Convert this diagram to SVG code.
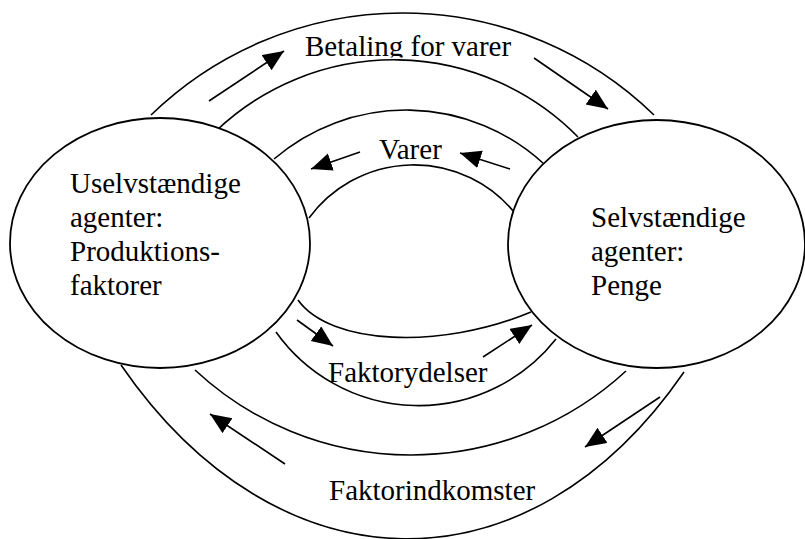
<svg xmlns="http://www.w3.org/2000/svg" width="805" height="539" viewBox="0 0 805 539">
<style>
.ln{fill:none;stroke:#000;stroke-width:1.6}
.ar{fill:none;stroke:#000;stroke-width:1.6;marker-end:url(#ah)}
.nd{fill:#fff;stroke:#000;stroke-width:1.8}
.t{font-family:"Liberation Serif","Times New Roman",serif;font-size:29px;fill:#000}
</style>
<defs>
<marker id="ah" markerUnits="userSpaceOnUse" markerWidth="24" markerHeight="20" refX="21" refY="9" orient="auto">
<path d="M0,0 L21,9 L0,18 z" fill="#000"/>
</marker>
<clipPath id="clipB"><rect x="290" y="20" width="240" height="37.5"/></clipPath>
</defs>
<rect width="805" height="539" fill="#fff"/>
<g id="connectors">
<path class="ln" d="M151,115 A361 361 0 0 1 654,115"/>
<path class="ln" d="M216,131 A258 258 0 0 1 578,137"/>
<path class="ln" d="M274,159 A203 203 0 0 1 544,164"/>
<path class="ln" d="M309,218 A130 130 0 0 1 514,212"/>
<path class="ln" d="M298,300 C330,345 440,350 531,312"/>
<path class="ln" d="M276,332 A175 175 0 0 0 556,339"/>
<path class="ln" d="M195,370 A317 317 0 0 0 626,371"/>
<path class="ln" d="M121,365 C277,592 528,599 684,372"/>
<line class="ar" x1="209" y1="101" x2="284" y2="51"/>
<line class="ar" x1="534" y1="58" x2="608" y2="109"/>
<line class="ar" x1="360" y1="152" x2="311" y2="169"/>
<line class="ar" x1="510" y1="169" x2="460" y2="153"/>
<line class="ar" x1="297" y1="320" x2="333" y2="346"/>
<line class="ar" x1="483" y1="357" x2="532" y2="325"/>
<line class="ar" x1="285" y1="464" x2="210" y2="414"/>
<line class="ar" x1="660" y1="397" x2="585" y2="447"/>
</g>
<g id="label-betaling"><text class="t" x="305" y="56" clip-path="url(#clipB)">Betaling for varer</text></g>
<g id="label-varer"><text class="t" x="379" y="159">Varer</text></g>
<g id="label-faktorydelser"><text class="t" x="328" y="382">Faktorydelser</text></g>
<g id="label-faktorindkomster"><text class="t" x="329" y="500">Faktorindkomster</text></g>
<g id="node-uselvstaendige">
<ellipse class="nd" cx="160" cy="243" rx="150" ry="125"/>
<text class="t" x="70" y="193">Uselvstændige</text>
<text class="t" x="70" y="227">agenter:</text>
<text class="t" x="70" y="261">Produktions-</text>
<text class="t" x="70" y="295">faktorer</text>
</g>
<g id="node-selvstaendige">
<ellipse class="nd" cx="656.5" cy="244" rx="148.5" ry="124"/>
<text class="t" x="591" y="227">Selvstændige</text>
<text class="t" x="591" y="261">agenter:</text>
<text class="t" x="591" y="295">Penge</text>
</g>
</svg>
